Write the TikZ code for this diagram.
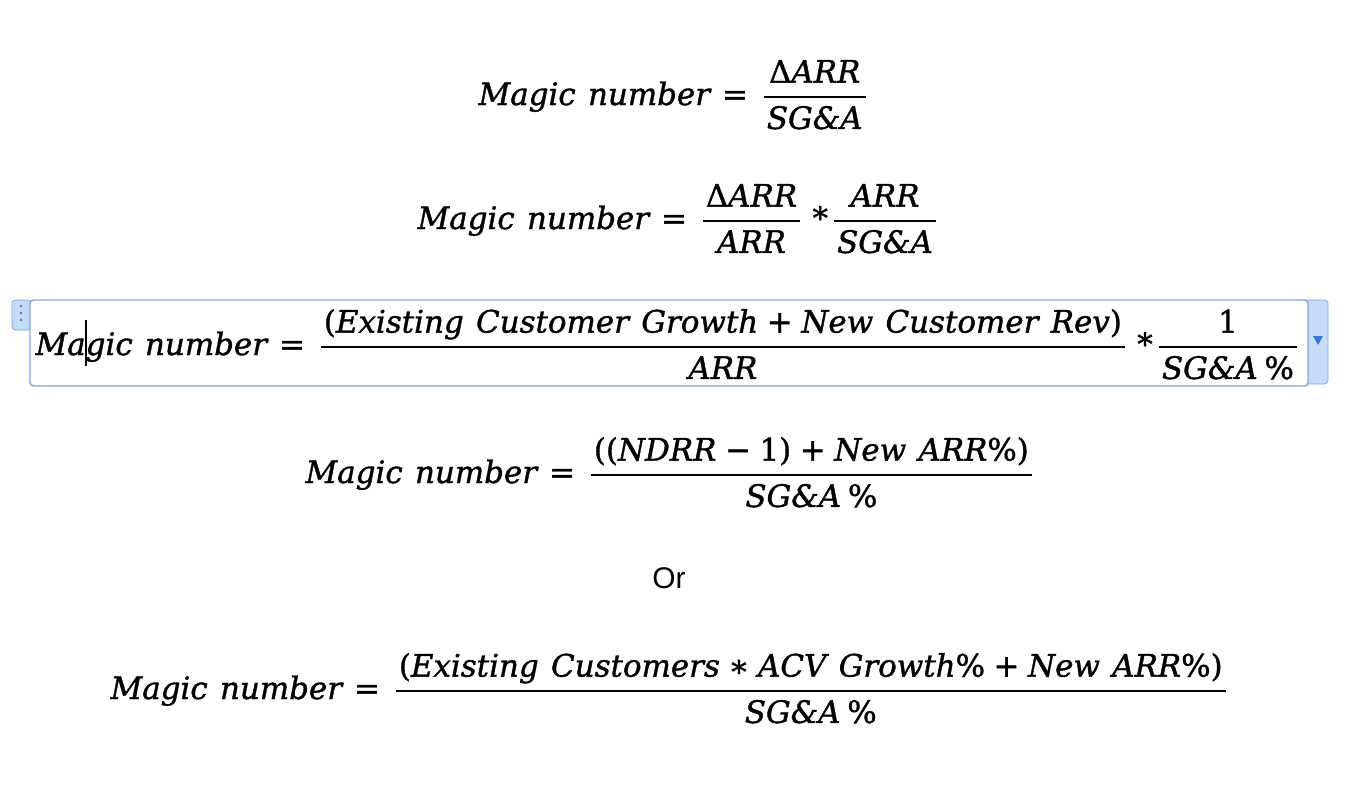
\documentclass[tikz,border=0pt]{standalone}
\usepackage{amsmath}
\usepackage{fontspec}
\setmainfont{DejaVu Serif}[UprightFeatures={FakeBold=1.2}, ItalicFeatures={FakeBold=1.2}]
\newfontfamily\orfont{Liberation Sans}
\usetikzlibrary{calc}
\definecolor{boxline}{HTML}{7FA7DC}
\definecolor{tabfill}{HTML}{C4DCF6}
\definecolor{arrowfill}{HTML}{3D78D0}
\newcommand{\vr}[1]{\mbox{\spaceskip=0.4em\itshape #1}}
\newcommand{\up}[1]{\mbox{\upshape #1}}
\newcommand{\eqs}{\mathrel{\up{=}}}
\newcommand{\pl}{\mathbin{\up{+}}}
\newcommand{\mn}{\mathbin{\up{−}}}
\newcommand{\tm}{\mathbin{\up{*}\kern-2pt}}
\newcommand{\st}{\mathbin{\up{∗}}}
\newcommand{\pc}{\up{\%}}
\newcommand{\spc}{\up{\kern0.22em\%}}
\newcommand{\fr}[2]{\genfrac{}{}{0.7pt}{0}{\kern1pt\rule[-2.3pt]{0pt}{0pt}#1\kern1pt}{\kern1pt\rule{0pt}{7.8pt}#2\kern1pt}}

\begin{document}
\begin{tikzpicture}[x=0.02cm,y=-0.02cm,
  eq/.style={anchor=base west, inner sep=0pt, scale=1.76, transform shape,
    execute at begin node={\thickmuskip=7mu\medmuskip=5mu}}]
\useasboundingbox (0,0) rectangle (1370,788);
% equation box round the third line
\draw[boxline, fill=tabfill, rounded corners=2pt] (12,300) rectangle (32,330);
\draw[boxline, fill=tabfill, rounded corners=2pt] (1300,300) rectangle (1328,384);
\draw[boxline, fill=white, rounded corners=2pt, line width=0.8pt] (30,300) rectangle (1308,386);
\foreach \y in {306,313,320} \fill[boxline!70!black] (21,\y) circle (1.3);
\fill[arrowfill] (1313,336) -- (1323,336) -- (1318,345) -- cycle;
% formulas
\node[eq] (magicA) at (478,105) {$\vr{Magic number} \eqs \fr{\up{Δ}\vr{ARR}}{\vr{SG\&A}}$};
\node[eq] (magicB) at (417,229) {$\vr{Magic number} \eqs \fr{\up{Δ}\vr{ARR}}{\vr{ARR}}\tm\fr{\vr{ARR}}{\vr{SG\&A}}$};
\node[eq] (magicC) at (35,355) {$\vr{Magic number} \eqs \fr{\up{(}\vr{Existing Customer Growth} \pl \vr{New Customer Rev}\up{)}}{\vr{ARR}}\tm\fr{\up{1}}{\vr{SG\&A}\spc}$};
\node[eq] (magicD) at (305,483) {$\vr{Magic number} \eqs \fr{\up{((}\vr{NDRR} \mn \up{1)} \pl \vr{New ARR}\pc\up{)}}{\vr{SG\&A}\spc}$};
\node[anchor=base, inner sep=0pt, font=\orfont\fontsize{17}{19}\selectfont] (orword) at (669,588) {Or};
\node[eq] (magicE) at (110,699) {$\vr{Magic number} \eqs \fr{\up{(}\vr{Existing Customers} \st \vr{ACV Growth}\pc \pl \vr{New ARR}\pc\up{)}}{\vr{SG\&A}\spc}$};
% text cursor
\draw[line width=0.6pt] (86,320) -- (86,366);
\end{tikzpicture}
\end{document}
